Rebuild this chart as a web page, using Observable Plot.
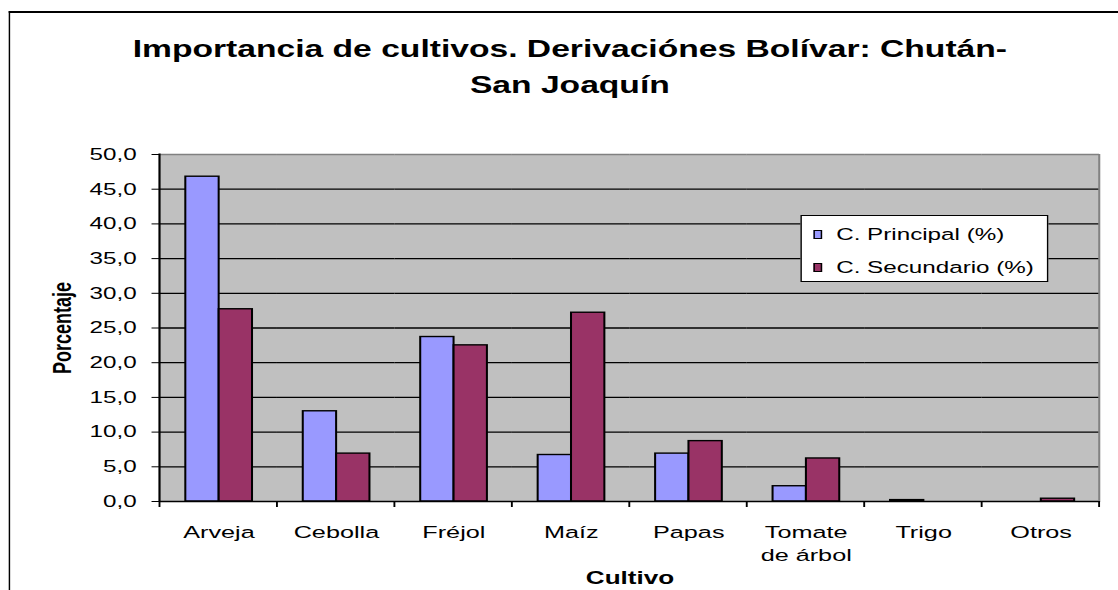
<!DOCTYPE html>
<html>
<head>
<meta charset="utf-8">
<script src="https://cdn.jsdelivr.net/npm/d3@7"></script>
<script src="https://cdn.jsdelivr.net/npm/@observablehq/plot@0.6"></script>
<style>
  html, body { margin: 0; padding: 0; background: #fff; width: 1118px; height: 590px; overflow: hidden; }
  #stage { position: absolute; left: 0; top: 0; width: 771px; height: 590px;
           transform: scaleX(1.45); transform-origin: 0 0;
           font-family: "Liberation Sans", Arial, sans-serif; color: #000; }
  #chart { position: absolute; left: 0; top: 0; }
  #title { position: absolute; left: 0; top: 31px; width: 786px; text-align: center;
           font-weight: bold; font-size: 23.2px; line-height: 36px; white-space: nowrap; }
  #legend { position: absolute; left: 551.7px; top: 215px; width: 171px; height: 67px;
            box-sizing: border-box; border: 1px solid #000; background: #fff; }
  .sw { position: absolute; left: 8px; width: 6.2px; height: 9px; box-sizing: border-box; border: 1px solid #000; }
  .lt { position: absolute; left: 24px; font-size: 16.7px; line-height: 16.7px; white-space: nowrap; }
  #frame { position: absolute; left: 5.5px; top: 11px; width: 2000px; height: 2000px;
           border-left: 1.6px solid #000; border-top: 2px solid #000; pointer-events: none; }
</style>
</head>
<body>
<div id="stage">
  <div id="chart"></div>
  <div id="title"></div>
  <div id="legend"></div>
  <div id="frame"></div>
</div>
<script>
// ---- data ----
const titulo = ["Importancia de cultivos. Derivaciónes Bolívar: Chután-", "San Joaquín"];
const cultivos = ["Arveja", "Cebolla", "Fréjol", "Maíz", "Papas", "Tomate de árbol", "Trigo", "Otros"];
const etiquetas = ["Arveja", "Cebolla", "Fréjol", "Maíz", "Papas", "Tomate\nde árbol", "Trigo", "Otros"];
const series = ["C. Principal (%)", "C. Secundario (%)"];
const principal = [46.8, 13.0, 23.7, 6.7, 6.9, 2.2, 0.2, 0.0];
const secundario = [27.7, 6.9, 22.5, 27.2, 8.7, 6.2, 0.0, 0.4];
const yTicks = [0, 5, 10, 15, 20, 25, 30, 35, 40, 45, 50];
const gridTicks = [5, 10, 15, 20, 25, 30, 35, 40, 45];
const colores = ["#9999ff", "#993366"];
const ejeX = "Cultivo";
const ejeY = "Porcentaje";

const datos = [];
cultivos.forEach((c, i) => {
  datos.push({cultivo: c, serie: series[0], valor: principal[i]});
  datos.push({cultivo: c, serie: series[1], valor: secundario[i]});
});

const font = "'Liberation Sans', Arial, sans-serif";
const fmt = d => d.toFixed(1).replace(".", ",");

const chart = Plot.plot({
  width: 771,
  height: 590,
  marginLeft: 106.2,
  marginRight: 9.6,
  marginTop: 154,
  marginBottom: 89,
  style: {background: "transparent", fontFamily: font, color: "#000", overflow: "visible"},
  fx: {domain: cultivos, paddingInner: 0, paddingOuter: 0},
  x: {domain: series, paddingInner: 0, paddingOuter: 0.735, axis: null},
  y: {domain: [0, 50]},
  color: {domain: series, range: colores},
  marks: [
    Plot.frame({fill: "#c0c0c0", stroke: "#c0c0c0", strokeWidth: 1}),
    Plot.gridY(gridTicks, {stroke: "#000", strokeOpacity: 1, strokeWidth: 1.3}),
    Plot.ruleY([50], {stroke: "#808080", strokeWidth: 1.3}),
    Plot.barY(datos, {fx: "cultivo", x: "serie", y: "valor", fill: "serie", stroke: "#000", strokeWidth: 1.4}),
    Plot.ruleY([0], {stroke: "#000", strokeWidth: 1.5}),
    Plot.axisY({ticks: yTicks, tickFormat: fmt, tickSize: 5.5, tickPadding: 10.8, fontSize: 16.7,
                label: ejeY, labelAnchor: "center", labelOffset: 74, labelArrow: "none"}),
    Plot.axisFx({anchor: "bottom", tickSize: 0, tickPadding: 20.5, fontSize: 17.4, lineHeight: 1.3,
                 tickFormat: d => etiquetas[cultivos.indexOf(d)],
                 label: ejeX, labelAnchor: "center", labelOffset: 82, labelArrow: "none"})
  ]
});

document.getElementById("chart").appendChild(chart);

// bold axis titles
d3.select(chart).selectAll("g[aria-label='y-axis label'] text, g[aria-label='fx-axis label'] text")
  .attr("font-weight", "bold").attr("font-size", 18);

// Excel-style boundary ticks and axis lines, from Plot's scales
const fx = chart.scale("fx"), ys = chart.scale("y");
const y0 = ys.apply(0), y50 = ys.apply(50);
const bounds = cultivos.map(c => fx.apply(c));
bounds.push(fx.apply(cultivos[cultivos.length - 1]) + fx.bandwidth);
const g = d3.select(chart).append("g");
g.selectAll("line.tk").data(bounds).join("line")
  .attr("x1", d => d).attr("x2", d => d).attr("y1", y0).attr("y2", y0 + 6)
  .attr("stroke", "#000").attr("stroke-width", 1.3);
g.append("line").attr("x1", bounds[0]).attr("x2", bounds[0]).attr("y1", y50 - 0.5).attr("y2", y0 + 0.7)
  .attr("stroke", "#000").attr("stroke-width", 1.5);
g.append("line").attr("x1", bounds[bounds.length - 1]).attr("x2", bounds[bounds.length - 1])
  .attr("y1", y50).attr("y2", y0).attr("stroke", "#808080").attr("stroke-width", 1.2);

// title
document.getElementById("title").innerHTML = titulo.join("<br>");

// legend
const leg = document.getElementById("legend");
series.forEach((s, i) => {
  const sw = document.createElement("div");
  sw.className = "sw";
  sw.style.top = (14 + i * 33) + "px";
  sw.style.background = colores[i];
  leg.appendChild(sw);
  const t = document.createElement("div");
  t.className = "lt";
  t.style.top = (11 + i * 33) + "px";
  t.textContent = s;
  leg.appendChild(t);
});
</script>
</body>
</html>
